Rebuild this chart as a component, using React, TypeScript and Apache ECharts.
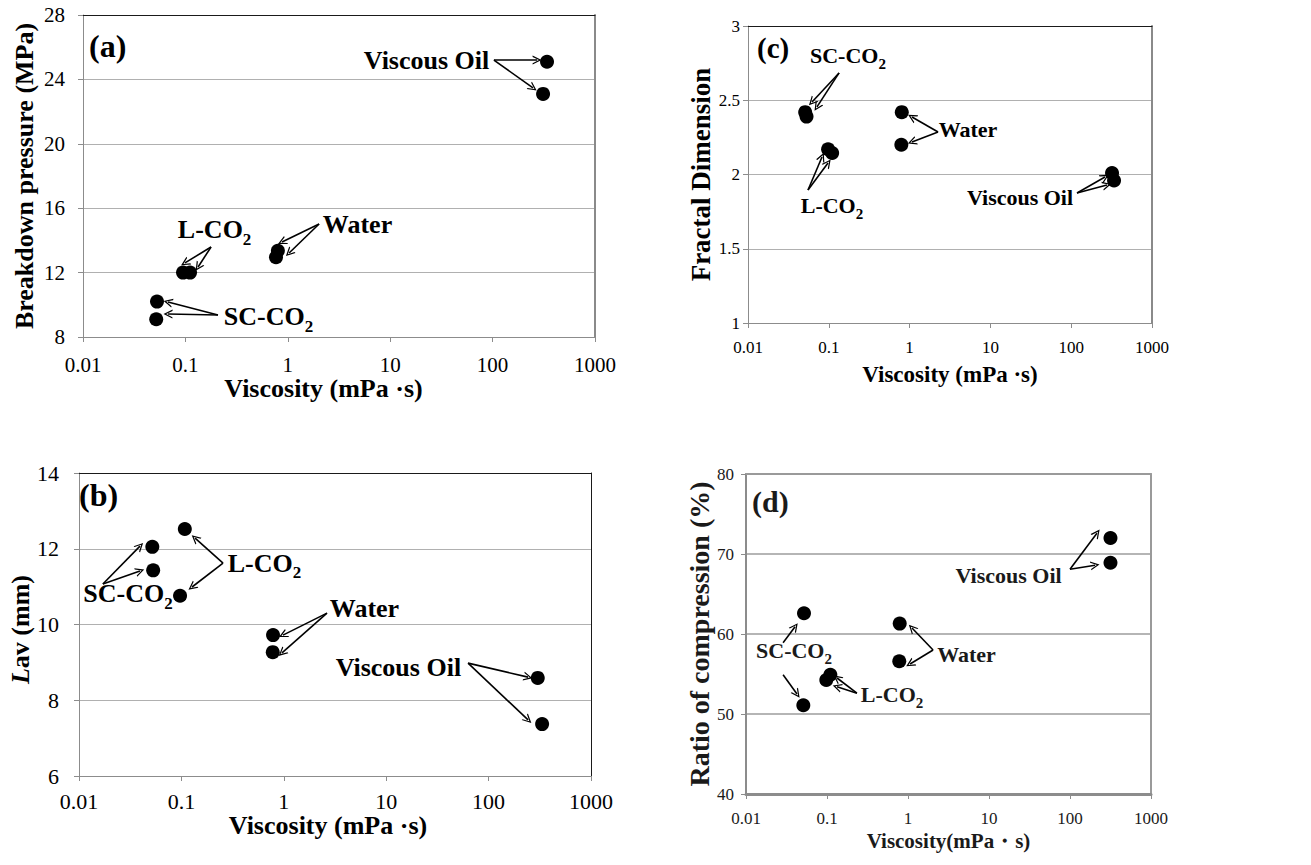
import React, { useEffect, useRef } from 'react';
import * as echarts from 'echarts';

// ---------- data ----------
const xTickLabels = ['0.01', '0.1', '1', '10', '100', '1000'];

// Fluids order: SC-CO2 (x2), L-CO2 (x2), Water (x2), Viscous Oil (x2)
// (a) Breakdown pressure
const viscosityA = [0.0528, 0.0519, 0.0948, 0.111, 0.8, 0.767, 311, 340];
const breakdownPressure = [10.2, 9.1, 12.0, 12.0, 13.35, 12.95, 23.1, 25.1];
// (b) Lav
const viscosityB = [0.052, 0.053, 0.108, 0.097, 0.785, 0.78, 302, 333];
const lavValues = [12.05, 11.43, 12.52, 10.76, 9.72, 9.27, 8.59, 7.37];
// (c) Fractal dimension
const viscosityC = [0.051, 0.053, 0.098, 0.11, 0.8, 0.79, 320, 339];
const fractalDimension = [2.42, 2.39, 2.17, 2.145, 2.42, 2.2, 2.01, 1.96];
// (d) Ratio of compression
const viscosityD = [0.052, 0.051, 0.098, 0.11, 0.79, 0.78, 316, 316];
const compressionRatio = [62.6, 51.1, 54.25, 54.9, 61.3, 56.6, 72.0, 68.9];

// annotation texts
const noteTextsA = ['Viscous Oil', 'Water', 'L-CO|2', 'SC-CO|2'];
const noteTextsB = ['SC-CO|2', 'L-CO|2', 'Water', 'Viscous Oil'];
const noteTextsC = ['SC-CO|2', 'L-CO|2', 'Water', 'Viscous Oil'];
const noteTextsD = ['Viscous Oil', 'Water', 'SC-CO|2', 'L-CO|2'];

// annotation anchors (data coords)
const noteAtA: [number, number][] = [[22.9, 25.14], [4.85, 14.96], [0.195, 14.46], [0.655, 9.06]];
const noteAtB: [number, number][] = [[0.0304, 10.73], [0.655, 11.54], [6.21, 10.41], [13.3, 8.85]];
const noteAtC: [number, number][] = [[0.175, 2.778], [0.111, 1.774], [5.36, 2.3], [23.6, 1.842]];
const noteAtD: [number, number][] = [[17.7, 67.25], [5.35, 57.4], [0.0397, 57.6], [0.644, 52.1]];

// arrows [from, to] (data coords)
type Seg = [[number, number], [number, number]];
const arrowsA: Seg[] = [
  [[103, 25.2], [272, 25.2]], [[103, 25.2], [248, 23.47]],
  [[2.02, 15.02], [0.877, 13.9]], [[2.02, 15.02], [1.03, 13.22]],
  [[0.178, 13.59], [0.099, 12.6]], [[0.178, 13.59], [0.133, 12.35]],
  [[0.208, 9.37], [0.0676, 10.17]], [[0.208, 9.37], [0.0676, 9.43]],
];
const arrowsB: Seg[] = [
  [[0.0171, 11.07], [0.0394, 12.07]], [[0.0171, 11.07], [0.0394, 11.41]],
  [[0.255, 11.62], [0.136, 12.28]], [[0.255, 11.62], [0.127, 10.99]],
  [[2.64, 10.3], [0.982, 9.72]], [[2.64, 10.3], [0.96, 9.25]],
  [[63, 8.98], [243, 8.61]], [[63, 8.98], [243, 7.48]],
];
const arrowsC: Seg[] = [
  [[0.134, 2.684], [0.062, 2.488]], [[0.134, 2.684], [0.0714, 2.455]],
  [[0.0553, 1.896], [0.0824, 2.118]], [[0.0553, 1.896], [0.0977, 2.077]],
  [[2.25, 2.286], [1.07, 2.387]], [[2.25, 2.286], [1.07, 2.219]],
  [[118, 1.875], [262, 1.983]], [[118, 1.875], [277, 1.929]],
];
const arrowsD: Seg[] = [
  [[100, 68.1], [215, 72.6]], [[100, 68.1], [204, 68.6]],
  [[2.04, 58], [1.12, 60.75]], [[2.04, 58], [1.06, 56.25]],
  [[0.0287, 58.9], [0.0403, 60.9]], [[0.0287, 54.9], [0.0426, 52.5]],
  [[0.234, 52.6], [0.133, 54.5]], [[0.234, 52.6], [0.133, 53.4]],
];

const FONT = "'Liberation Serif', 'Times New Roman', serif";
const ARROW = 'path://M5,0 L10,10 L8.5,10 L5,3 L1.5,10 L0,10 Z';

type PanelCfg = {
  grid: any; xs: number[]; ys: number[]; yMin: number; yMax: number; yStep: number;
  yName: string; xName: string; tag: string; notes: string[]; noteAt: [number, number][];
  arrows: Seg[]; tickFont: number; yTitleFont: number; xTitleFont: number; noteFont: number; subFont: number;
  yGap: number; xGap: number; yPad: number[]; xPad: number[]; xMargin: number; yMargin: number;
  frameTop: string; frameRight: string; frameW: number; axisColor: string; axisW: number;
  gridColor: string; gridW: number; textColor: string;
};

const panels: PanelCfg[] = [
  {
    grid: { left: 83, top: 15, width: 512, height: 322 }, xs: viscosityA, ys: breakdownPressure,
    yMin: 8, yMax: 28, yStep: 4, yName: 'Breakdown pressure (MPa)', xName: 'Viscosity (mPa ·s)', tag: '(a)',
    notes: noteTextsA, noteAt: noteAtA, arrows: arrowsA, tickFont: 21, yTitleFont: 26, xTitleFont: 26, noteFont: 26, subFont: 17,
    yGap: 46, xGap: 36, yPad: [0, 0, 0, 0], xPad: [0, 31, 0, 0], xMargin: 17, yMargin: 18,
    frameTop: '#1a1a1a', frameRight: '#8a8a8a', frameW: 2, axisColor: '#8c8c8c', axisW: 1,
    gridColor: '#b0b0b0', gridW: 1, textColor: '#000',
  },
  {
    grid: { left: 79, top: 473, width: 512, height: 303 }, xs: viscosityB, ys: lavValues,
    yMin: 6, yMax: 14, yStep: 2, yName: '{i|L}av (mm)', xName: 'Viscosity (mPa ·s)', tag: '(b)',
    notes: noteTextsB, noteAt: noteAtB, arrows: arrowsB, tickFont: 22, yTitleFont: 26, xTitleFont: 26, noteFont: 26, subFont: 17,
    yGap: 46, xGap: 36, yPad: [0, 10, 0, 0], xPad: [0, 14, 0, 0], xMargin: 14, yMargin: 20,
    frameTop: '#1a1a1a', frameRight: '#1a1a1a', frameW: 1, axisColor: '#8c8c8c', axisW: 1,
    gridColor: '#b0b0b0', gridW: 1, textColor: '#000',
  },
  {
    grid: { left: 748, top: 26, width: 404, height: 297 }, xs: viscosityC, ys: fractalDimension,
    yMin: 1, yMax: 3, yStep: 0.5, yName: 'Fractal Dimension', xName: 'Viscosity (mPa ·s)', tag: '(c)',
    notes: noteTextsC, noteAt: noteAtC, arrows: arrowsC, tickFont: 17, yTitleFont: 27, xTitleFont: 23, noteFont: 22, subFont: 15,
    yGap: 34, xGap: 40, yPad: [0, 0, 0, 0], xPad: [0, 0, 0, 0], xMargin: 16, yMargin: 8,
    frameTop: '#1a1a1a', frameRight: '#8a8a8a', frameW: 2, axisColor: '#8c8c8c', axisW: 1,
    gridColor: '#b0b0b0', gridW: 1, textColor: '#000',
  },
  {
    grid: { left: 746, top: 474, width: 405, height: 320 }, xs: viscosityD, ys: compressionRatio,
    yMin: 40, yMax: 80, yStep: 10, yName: 'Ratio of compression (%)', xName: 'Viscosity(mPa・s)', tag: '(d)',
    notes: noteTextsD, noteAt: noteAtD, arrows: arrowsD, tickFont: 17, yTitleFont: 28, xTitleFont: 21, noteFont: 22, subFont: 15,
    yGap: 30, xGap: 36, yPad: [0, 0, 0, 0], xPad: [0, 0, 0, 0], xMargin: 16, yMargin: 12,
    frameTop: '#9a9a9a', frameRight: '#9a9a9a', frameW: 2, axisColor: '#8c8c8c', axisW: 3,
    gridColor: '#b5b5b5', gridW: 2, textColor: '#1a1a1a',
  },
];

const tagPos = [
  { left: 89, top: 30, size: 32 },
  { left: 79, top: 479, size: 32 },
  { left: 757, top: 33, size: 29 },
  { left: 752, top: 486, size: 30 },
];

function buildOption() {
  const grids: any[] = [];
  const xAxes: any[] = [];
  const yAxes: any[] = [];
  const series: any[] = [];
  const graphics: any[] = [];

  panels.forEach((p, i) => {
    grids.push({ ...p.grid, containLabel: false });
    xAxes.push({
      type: 'log', logBase: 10, min: 0.01, max: 1000, gridIndex: i, position: 'bottom',
      name: p.xName, nameLocation: 'middle', nameGap: p.xGap,
      nameTextStyle: { fontFamily: FONT, fontWeight: 'bold', fontSize: p.xTitleFont, color: p.textColor, padding: p.xPad },
      axisLine: { show: true, onZero: false, lineStyle: { color: p.axisColor, width: p.axisW } },
      axisTick: { show: true, length: 5, inside: false, lineStyle: { color: p.axisColor, width: 1 } },
      minorTick: { show: false },
      axisLabel: {
        fontFamily: FONT, fontSize: p.tickFont, color: p.textColor, margin: p.xMargin,
        formatter: (v: number) => xTickLabels[Math.round(Math.log10(v)) + 2] ?? '',
      },
      splitLine: { show: false },
    });
    yAxes.push({
      type: 'value', min: p.yMin, max: p.yMax, interval: p.yStep, gridIndex: i, position: 'left',
      name: p.yName, nameLocation: 'middle', nameGap: p.yGap, nameRotate: 90,
      nameTextStyle: {
        fontFamily: FONT, fontWeight: 'bold', fontSize: p.yTitleFont, color: p.textColor, padding: p.yPad,
        rich: { i: { fontFamily: FONT, fontWeight: 'bold', fontStyle: 'italic', fontSize: p.yTitleFont, color: p.textColor } },
      },
      axisLine: { show: true, lineStyle: { color: p.axisColor, width: i === 3 ? 2 : 1 } },
      axisTick: { show: true, length: 5, lineStyle: { color: p.axisColor, width: 1 } },
      axisLabel: { fontFamily: FONT, fontSize: p.tickFont, color: p.textColor, margin: p.yMargin },
      splitLine: { show: true, lineStyle: { color: p.gridColor, width: p.gridW } },
    });
  });
  // frame axes (top and right)
  panels.forEach((p, i) => {
    xAxes.push({
      type: 'value', min: 0, max: 1, gridIndex: i, position: 'top',
      axisLine: { show: true, onZero: false, lineStyle: { color: p.frameTop, width: i === 3 ? 2 : 1 } },
      axisTick: { show: false }, axisLabel: { show: false }, splitLine: { show: false },
    });
    yAxes.push({
      type: 'value', min: 0, max: 1, gridIndex: i, position: 'right',
      axisLine: { show: true, onZero: false, lineStyle: { color: p.frameRight, width: p.frameW } },
      axisTick: { show: false }, axisLabel: { show: false }, splitLine: { show: false },
    });
  });

  panels.forEach((p, i) => {
    series.push({
      type: 'scatter', xAxisIndex: i, yAxisIndex: i, symbol: 'circle', symbolSize: 14,
      itemStyle: { color: '#000', opacity: 1 }, silent: true, z: 5,
      data: p.xs.map((x, k) => [x, p.ys[k]]),
    });
    series.push({
      type: 'lines', coordinateSystem: 'cartesian2d', xAxisIndex: i, yAxisIndex: i,
      symbol: ['none', ARROW], symbolSize: 9, silent: true, z: 4,
      lineStyle: { color: '#000', width: 1.6, opacity: 1, curveness: 0 },
      data: p.arrows.map((s) => ({ coords: [s[0], s[1]] })),
    });
    series.push({
      type: 'scatter', xAxisIndex: i, yAxisIndex: i, symbolSize: 1, silent: true, z: 6,
      itemStyle: { color: 'rgba(255,255,255,0)' },
      data: p.notes.map((t, k) => {
        const [main, sub] = t.split('|');
        return {
          value: p.noteAt[k],
          label: {
            show: true, position: [0, 0], align: 'center', verticalAlign: 'middle',
            color: p.textColor, textBorderWidth: 0, opacity: 1,
            formatter: sub ? `{m|${main}}{s|${sub}}` : `{m|${main}}`,
            rich: {
              m: { fontFamily: FONT, fontWeight: 'bold', fontSize: p.noteFont, color: p.textColor, verticalAlign: 'top', lineHeight: p.noteFont },
              s: { fontFamily: FONT, fontWeight: 'bold', fontSize: p.subFont, color: p.textColor, verticalAlign: 'top', padding: [Math.round(p.noteFont * 0.55), 0, 0, 0] },
            },
          },
        };
      }),
    });
    graphics.push({
      type: 'text', left: tagPos[i].left, top: tagPos[i].top, z: 10,
      style: { text: p.tag, font: `bold ${tagPos[i].size}px ${FONT}`, fill: p.textColor },
    });
  });

  return {
    animation: false,
    backgroundColor: '#fff',
    grid: grids,
    xAxis: xAxes,
    yAxis: yAxes,
    series,
    graphic: graphics,
  };
}

export default function App() {
  const ref = useRef<HTMLDivElement>(null);
  useEffect(() => {
    document.body.style.margin = '0';
    if (!ref.current) return;
    const chart = echarts.init(ref.current, undefined, { renderer: 'svg' });
    chart.setOption(buildOption() as any);
    return () => chart.dispose();
  }, []);
  return <div ref={ref} style={{ width: 1311, height: 865 }} />;
}
